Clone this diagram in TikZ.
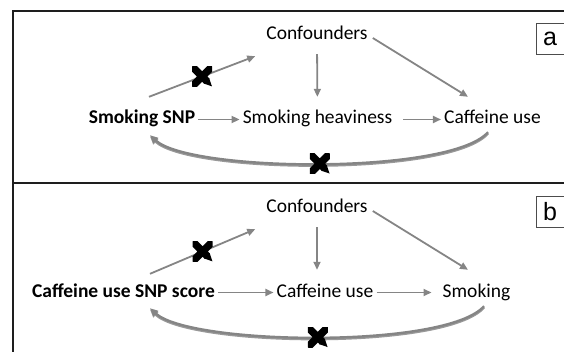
\documentclass[tikz,border=0pt]{standalone}
\usepackage{fontspec}
\setmainfont{Carlito}
\newfontfamily\panelfont{Liberation Sans}
\usetikzlibrary{arrows.meta}
\definecolor{arrowgray}{HTML}{858585}
\definecolor{framegray}{HTML}{1E1E1E}

\begin{document}
\begin{tikzpicture}[x=1pt, y=-1pt,
    factor/.style={anchor=base, inner xsep=3pt, inner ysep=0pt, text height=14pt, text depth=5pt, font=\fontsize{19.5}{22}\selectfont},
    snpnode/.style={factor, font=\fontsize{19.5}{22}\selectfont\bfseries},
    panelbox/.style={draw=black!70, line width=0.8pt, minimum width=28pt, minimum height=31pt, inner sep=0pt, font=\panelfont\fontsize{25}{27}\selectfont},
    frameline/.style={draw=framegray, line width=2pt},
    conn/.style={draw=arrowgray, line width=1.8pt, -{Triangle[length=8pt,width=7pt]}},
    backpath/.style={conn, line width=2.4pt, preaction={draw=black!40, line width=2.4pt, transform canvas={shift={(0,1.3)}}}},
    blocked/.style={inner sep=0pt, minimum size=20pt, path picture={
        \draw[black, line width=7.5pt] (path picture bounding box.south west) -- (path picture bounding box.north east)
            (path picture bounding box.north west) -- (path picture bounding box.south east);}}
]
\useasboundingbox (0,0) rectangle (564,352);

% frame
\draw[frameline] (566,11) -- (13,11) -- (13,354);
\draw[frameline] (13,183) -- (566,183);

% panel a
\node[panelbox] (lab_a) at (550,38.5) {a};
\node[factor] (conf_a) at (317,39.5) {Confounders};
\node[snpnode] (snp_a) at (142,124) {Smoking SNP};
\node[factor] (heavy_a) at (317.5,124) {Smoking heaviness};
\node[factor] (caff_a) at (492.5,124) {Caffeine use};

\draw[conn] (snp_a.east) -- (heavy_a.west);
\draw[conn, shorten <=8pt] (heavy_a.east) -- (caff_a.west);
\draw[conn] ([shift={(7,-13)}]snp_a.north) -- node[blocked] {} ([shift={(-8,11.5)}]conf_a.south west);
\draw[conn, shorten <=9.5pt, shorten >=13pt] (conf_a.south) -- (heavy_a.north);
\draw[conn] ([shift={(2,3)}]conf_a.east) -- ([shift={(-24.5,-13)}]caff_a.north);
\draw[backpath] ([shift={(-4.5,3)}]caff_a.south) .. controls +(-38,43) and +(40,37) .. ([shift={(8,6)}]snp_a.south) node[blocked, pos=0.5] {};

% panel b
\node[panelbox] (lab_b) at (550,211.5) {b};
\node[factor] (conf_b) at (317,212.5) {Confounders};
\node[snpnode] (snp_b) at (123.5,297) {Caffeine use SNP score};
\node[factor] (caff_b) at (325,297) {Caffeine use};
\node[factor] (smok_b) at (476.5,297) {Smoking};

\draw[conn] (snp_b.east) -- (caff_b.west);
\draw[conn, shorten >=8pt] (caff_b.east) -- (smok_b.west);
\draw[conn] ([shift={(26.5,-9)}]snp_b.north) -- node[blocked] {} ([shift={(-8,11.5)}]conf_b.south west);
\draw[conn, shorten <=9.5pt, shorten >=13pt] (conf_b.south) -- (conf_b.south |- caff_b.north);
\draw[conn] ([shift={(2,3)}]conf_b.east) -- ([shift={(-8.5,-13)}]smok_b.north);
\draw[backpath] ([shift={(7.5,4)}]smok_b.south) .. controls +(-38,43) and +(40,37) .. ([shift={(26.5,6)}]snp_b.south) node[blocked, pos=0.5] {};
\end{tikzpicture}
\end{document}
